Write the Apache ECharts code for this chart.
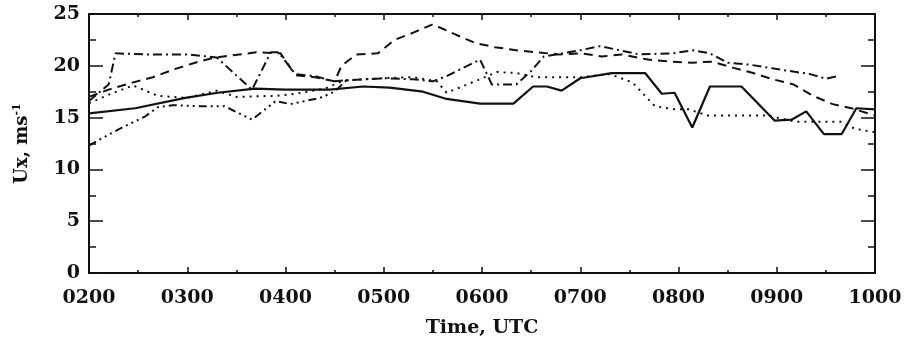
<!DOCTYPE html>
<html>
<head>
<meta charset="utf-8">
<script src="https://cdn.jsdelivr.net/npm/echarts@6/dist/echarts.min.js"></script>
<style>html,body{margin:0;padding:0;background:#fff;}#c{width:905px;height:343px;}</style>
</head>
<body>
<div id="c"></div>
<script>
// x tick labels (hours 02..10 UTC)
var xTickLabels = ['0200','0300','0400','0500','0600','0700','0800','0900','1000'];
var yTickLabels = ['0','5','10','15','20','25'];

// Solid line
var solidT = [2.0,2.47,2.98,3.31,3.69,4.0,4.45,4.79,5.06,5.40,5.64,5.98,6.32,6.52,6.66,6.81,7.0,7.32,7.66,7.83,7.96,8.14,8.32,8.64,8.98,9.15,9.30,9.48,9.66,9.81,10.0];
var solidV = [15.4,15.9,16.9,17.4,17.8,17.7,17.7,18.0,17.9,17.5,16.8,16.35,16.35,18.0,18.0,17.6,18.8,19.3,19.3,17.3,17.4,14.05,18.0,18.0,14.7,14.8,15.6,13.4,13.4,15.9,15.8];

// Dashed line
var dashT = [2.0,2.2,2.45,2.65,2.88,3.08,3.26,3.45,3.7,3.95,4.1,4.3,4.5,4.57,4.72,4.94,5.11,5.3,5.5,5.71,5.93,6.13,6.35,6.56,6.78,7.01,7.22,7.42,7.69,7.94,8.13,8.34,8.56,8.76,8.96,9.17,9.37,9.57,9.76,10.0];
var dashV = [17.0,17.7,18.4,18.9,19.7,20.3,20.75,21.0,21.3,21.2,19.1,18.9,18.5,20.0,21.1,21.2,22.5,23.2,24.0,23.1,22.2,21.8,21.5,21.3,21.1,21.2,20.9,21.1,20.6,20.4,20.3,20.4,19.8,19.3,18.7,18.2,17.1,16.3,15.9,15.2];

// Dash-dot line (upper)
var dashDotT = [2.0,2.2,2.27,2.6,3.0,3.3,3.66,3.85,3.93,4.1,4.3,4.5,4.62,5.0,5.3,5.5,5.64,5.98,6.1,6.35,6.5,6.63,7.0,7.2,7.4,7.6,7.94,8.15,8.32,8.5,8.73,9.06,9.34,9.5,9.62];
var dashDotV = [16.6,18.2,21.2,21.1,21.1,20.8,17.7,21.3,21.3,19.2,19.0,18.5,18.6,18.8,18.7,18.5,19.0,20.6,18.2,18.2,19.5,20.9,21.5,21.9,21.5,21.1,21.2,21.5,21.2,20.3,20.1,19.6,19.2,18.75,19.0];

// Dotted line
var dotT = [2.0,2.25,2.45,2.7,3.0,3.3,3.5,3.9,4.1,4.4,4.6,5.0,5.3,5.54,5.64,5.98,6.15,6.35,6.55,7.0,7.3,7.53,7.76,7.96,8.1,8.3,8.9,9.2,9.65,9.8,10.0];
var dotV = [16.4,17.4,18.1,17.1,16.9,17.6,17.0,17.1,17.3,17.8,18.6,18.8,18.9,18.5,17.4,18.7,19.4,19.3,18.9,18.9,19.2,18.4,16.1,15.8,15.8,15.2,15.2,14.6,14.6,13.9,13.6];

// Dash-dot-dot-dot line (lower, early part)
var dash3T = [2.0,2.15,2.35,2.57,2.7,2.85,3.1,3.38,3.66,3.9,4.05,4.35,4.5,4.62];
var dash3V = [12.3,13.1,14.1,15.1,16.0,16.2,16.1,16.1,14.8,16.6,16.3,16.9,17.5,18.6];

function zip(t, v){ return t.map(function(x,i){ return [x, v[i]]; }); }

var FONT = 'DejaVu Serif';
var chart = echarts.init(document.getElementById('c'), null, {renderer:'canvas'});

function mkSeries(name, t, v, type, w){
  return {name:name, type:'line', data:zip(t,v), symbol:'none', smooth:false, animation:false,
    xAxisIndex:0, yAxisIndex:0,
    lineStyle:{color:'#111', width:w, type:type}};
}

var axisCommon = {
  axisLine:{show:true, onZero:false, lineStyle:{color:'#111', width:2}},
  splitLine:{show:false}
};

chart.setOption({
  backgroundColor:'#fff',
  animation:false,
  grid:{left:89, right:30, top:14, bottom:68, containLabel:false},
  xAxis:[
    Object.assign({type:'value', min:2, max:10, interval:1, position:'bottom',
      axisTick:{show:true, inside:true, length:6, lineStyle:{color:'#111', width:1.5}},
      minorTick:{show:true, splitNumber:2, length:3, lineStyle:{color:'#111', width:1.5}},
      axisLabel:{show:true, margin:16, color:'#111', fontFamily:FONT, fontWeight:'bold', fontSize:19,
        formatter:function(v){ return xTickLabels[Math.round(v-2)]; }},
      name:'Time, UTC', nameLocation:'middle', nameGap:46,
      nameTextStyle:{color:'#111', fontFamily:FONT, fontWeight:'bold', fontSize:19}
    }, axisCommon),
    Object.assign({type:'value', min:2, max:10, interval:1, position:'top',
      axisTick:{show:true, inside:true, length:6, lineStyle:{color:'#111', width:1.5}},
      minorTick:{show:true, splitNumber:2, length:3, lineStyle:{color:'#111', width:1.5}},
      axisLabel:{show:false}
    }, axisCommon)
  ],
  yAxis:[
    Object.assign({type:'value', min:0, max:25, interval:5, position:'left',
      axisTick:{show:true, inside:true, length:14, lineStyle:{color:'#111', width:1.5}},
      minorTick:{show:true, splitNumber:2, length:7, lineStyle:{color:'#111', width:1.5}},
      axisLabel:{show:true, margin:9, color:'#111', fontFamily:FONT, fontWeight:'bold', fontSize:19,
        formatter:function(v){ return yTickLabels[Math.round(v/5)]; }},
      name:'{a|Ux, ms}{s|-1}', nameLocation:'middle', nameGap:56, nameRotate:90,
      nameTextStyle:{rich:{
        a:{color:'#111', fontFamily:FONT, fontWeight:'bold', fontSize:18},
        s:{color:'#111', fontFamily:FONT, fontWeight:'bold', fontSize:11, verticalAlign:'top', padding:[0,0,10,0]}
      }}
    }, axisCommon),
    Object.assign({type:'value', min:0, max:25, interval:5, position:'right',
      axisTick:{show:true, inside:true, length:14, lineStyle:{color:'#111', width:1.5}},
      minorTick:{show:true, splitNumber:2, length:7, lineStyle:{color:'#111', width:1.5}},
      axisLabel:{show:false}
    }, axisCommon)
  ],
  series:[
    mkSeries('solid', solidT, solidV, 'solid', 2.2),
    mkSeries('dashed', dashT, dashV, [9,6], 2),
    mkSeries('dashdot', dashDotT, dashDotV, [9,4,2,4], 2),
    mkSeries('dotted', dotT, dotV, [2,5], 2),
    mkSeries('dash3dot', dash3T, dash3V, [8,4,2,4,2,4,2,4], 2)
  ]
});
</script>
</body>
</html>
